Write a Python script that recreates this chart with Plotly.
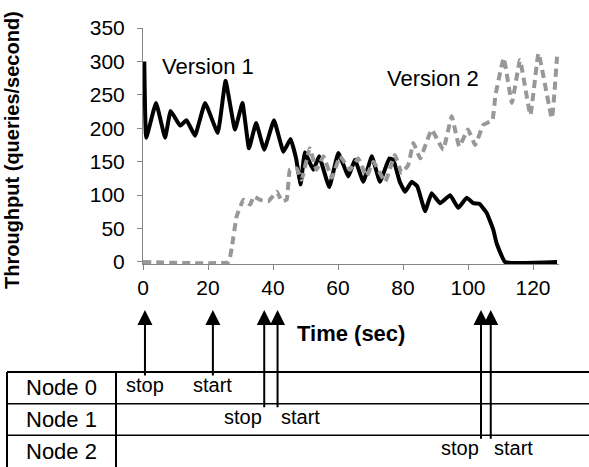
import plotly.graph_objects as go

# ---- data ----
v1_time = [0.4, 1.0, 4.0, 6.8, 8.5, 11.4, 13.4, 16.0, 19.1, 23.0, 25.4, 28.3, 30.6, 32.6,
           34.8, 37.3, 40.3, 43.2, 45.4, 47.1, 48.5, 49.8, 52.4, 54.2, 57.3, 60.1, 63.2,
           65.2, 67.8, 70.4, 72.9, 75.8, 77.0, 79.0, 80.6, 82.7, 84.4, 86.8, 88.8, 91.4,
           94.5, 97.0, 99.6, 101.6, 103.5, 105.8, 107.8, 108.8, 111.4, 127.4]
v1_tput = [300, 186, 238, 186, 226, 204, 212, 189, 238, 193, 271, 198, 238, 170,
           208, 168, 212, 165, 184, 155, 116, 164, 138, 158, 112, 163, 128,
           153, 120, 158, 120, 155, 153, 120, 105, 120, 113, 76, 103, 88,
           100, 81, 96, 88, 87, 73, 48, 28, 0, 0]

v2_time = [0.0, 26.3, 27.3, 28.8, 30.9, 33.0, 34.0, 36.0, 38.6, 41.2, 42.7, 44.2, 45.2,
           47.3, 48.8, 51.3, 53.4, 55.5, 58.1, 60.6, 63.7, 66.2, 68.8, 70.9, 74.5, 77.5,
           79.6, 81.6, 83.2, 85.3, 88.8, 90.9, 92.4, 95.0, 97.3, 100.0, 102.2, 104.7,
           107.5, 108.4, 111.0, 113.5, 116.0, 119.2, 121.7, 125.8, 127.4]
v2_tput = [0, 0, 21, 68, 93, 86, 98, 93, 91, 105, 91, 93, 138,
           140, 123, 170, 138, 158, 126, 158, 138, 155, 128, 150, 120, 160,
           133, 145, 178, 155, 198, 180, 168, 218, 173, 198, 175, 205,
           212, 248, 305, 238, 302, 220, 312, 215, 307]

x_ticks = [0, 20, 40, 60, 80, 100, 120]
y_ticks = [0, 50, 100, 150, 200, 250, 300, 350]

series_names = ["Version 1", "Version 2"]
node_names = ["Node 0", "Node 1", "Node 2"]
event_node = [0, 0, 1, 1, 2, 2]
event_kind = ["stop", "start", "stop", "start", "stop", "start"]
event_time = [0.6, 21.5, 37.3, 41.4, 104.0, 107.0]

# ---- layout geometry (pixels) ----
W, H = 589, 467
L, T, PW, PH = 143, 28, 416, 236


def px_x(px):
    return (px - L) / PW


def px_y(py):
    return (T + PH - py) / PH


FONT = "Liberation Sans, Arial, sans-serif"
AXIS_GRAY = "#868686"

fig = go.Figure()
fig.add_trace(go.Scatter(x=v1_time, y=v1_tput, mode="lines", name=series_names[0],
                         line=dict(color="black", width=4, shape="spline", smoothing=0.3)))
fig.add_trace(go.Scatter(x=v2_time, y=v2_tput, mode="lines", name=series_names[1],
                         line=dict(color="#989898", width=4, dash="8px,5px",
                                   shape="spline", smoothing=0.3)))

annotations = [
    dict(text=series_names[0], x=5.3, y=292, xref="x", yref="y", xanchor="left",
         yanchor="middle", showarrow=False, font=dict(size=22, color="black", family=FONT)),
    dict(text=series_names[1], x=74.6, y=274, xref="x", yref="y", xanchor="left",
         yanchor="middle", showarrow=False, font=dict(size=22, color="black", family=FONT)),
    dict(text="<b>Throughput (queries/second)</b>", x=px_x(12), y=px_y(150),
         xref="paper", yref="paper", textangle=-90, xanchor="center", yanchor="middle",
         showarrow=False, font=dict(size=20, color="black", family=FONT)),
    dict(text="<b>Time (sec)</b>", x=px_x(351), y=px_y(333), xref="paper", yref="paper",
         xanchor="center", yanchor="middle", showarrow=False,
         font=dict(size=22, color="black", family=FONT)),
]

shapes = []
# table geometry
row_lines = [372, 403.7, 435.3]
tbl_left, tbl_div, tbl_right, tbl_bottom = 7, 116, 589, 467
shapes.append(dict(type="line", xref="paper", yref="paper", x0=px_x(tbl_left), x1=px_x(tbl_right),
                   y0=px_y(row_lines[0]), y1=px_y(row_lines[0]), line=dict(color="black", width=2)))
for ry in row_lines[1:]:
    shapes.append(dict(type="line", xref="paper", yref="paper", x0=px_x(tbl_left), x1=px_x(tbl_right),
                       y0=px_y(ry), y1=px_y(ry), line=dict(color="black", width=1.5)))
for vx in (tbl_left, tbl_div):
    shapes.append(dict(type="line", xref="paper", yref="paper", x0=px_x(vx), x1=px_x(vx),
                       y0=px_y(row_lines[0]), y1=px_y(tbl_bottom + 2), line=dict(color="black", width=2)))

row_centers = [(row_lines[0] + row_lines[1]) / 2, (row_lines[1] + row_lines[2]) / 2,
               (row_lines[2] + tbl_bottom) / 2]
for i, name in enumerate(node_names):
    annotations.append(dict(text=name, x=px_x((tbl_left + tbl_div) / 2), y=px_y(row_centers[i]),
                            xref="paper", yref="paper", xanchor="center", yanchor="middle",
                            showarrow=False, font=dict(size=22, color="black", family=FONT)))

tip_py = 310
for n, kind, t in zip(event_node, event_kind, event_time):
    tail_py = row_lines[n] + 5
    annotations.append(dict(text="", x=t, y=px_y(tip_py), xref="x", yref="paper",
                            ax=0, ay=tail_py - tip_py, showarrow=True, arrowhead=2,
                            arrowsize=1.5, arrowwidth=2, arrowcolor="black", standoff=0))
    if n == 0:
        xa, xs = "center", 0
    elif kind == "stop":
        xa, xs = "right", 0
    else:
        xa, xs = "left", 1
    annotations.append(dict(text=kind, x=t, y=px_y(row_centers[n] - 3), xref="x", yref="paper",
                            xanchor=xa, xshift=xs, yanchor="middle", showarrow=False,
                            font=dict(size=20, color="black", family=FONT)))

fig.update_layout(
    width=W, height=H,
    margin=dict(l=L, r=W - L - PW, t=T, b=H - T - PH, pad=0),
    paper_bgcolor="white", plot_bgcolor="white",
    showlegend=False,
    font=dict(family=FONT, color="black"),
    annotations=annotations,
    shapes=shapes,
    xaxis=dict(range=[0, 128], tickvals=x_ticks, ticks="outside", ticklen=5, tickwidth=1,
               tickcolor=AXIS_GRAY, showline=True, linecolor=AXIS_GRAY, linewidth=1,
               showgrid=False, zeroline=False, tickfont=dict(size=21, family=FONT, color="black")),
    yaxis=dict(range=[-3, 350], tickvals=y_ticks, ticks="outside", ticklen=5, tickwidth=1,
               tickcolor=AXIS_GRAY, showline=True, linecolor=AXIS_GRAY, linewidth=1,
               showgrid=False, zeroline=False, ticklabelstandoff=8,
               tickfont=dict(size=21, family=FONT, color="black")),
)

fig.write_html("out.html")
